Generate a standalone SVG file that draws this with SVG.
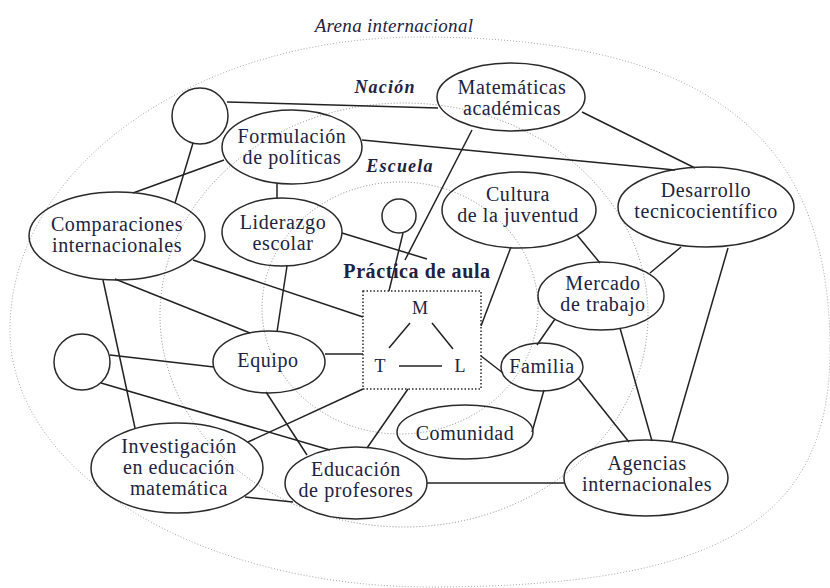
<svg xmlns="http://www.w3.org/2000/svg" width="830" height="588" viewBox="0 0 830 588" font-family="'Liberation Serif', 'Times New Roman', serif">
<style>
  .bg { fill: #ffffff; }
  .zone { fill: none; stroke: #8a8a8a; stroke-width: 1; stroke-dasharray: 1 2; }
  .zone-outer { fill: none; stroke: #a8a8a8; stroke-width: 1; stroke-dasharray: 1 2; }
  .node { fill: none; stroke: #2a2a2a; stroke-width: 1.5; }
  .box { fill: none; stroke: #2a2a2a; stroke-width: 1.5; stroke-dasharray: 1.5 2; }
  .edge { stroke: #222222; stroke-width: 1.5; fill: none; }
  text { font-family: 'Liberation Serif', 'Times New Roman', serif; }
  .lbl { font-size: 20px; letter-spacing: 0.6px; fill: #222240; text-anchor: middle; }
  .zlbl { font-style: italic; fill: #222240; text-anchor: middle; }
  .mtl { font-size: 18px; fill: #222240; text-anchor: middle; }
</style>
<rect class="bg" x="0" y="0" width="830" height="588"/>

<g id="zones">
  <path class="zone-outer" d="M 420 37 C 720 37 830 145 830 350 C 830 520 720 587 430 587 C 198 587 10 472 10 330 C 10 168 194 37 420 37 Z"/>
  <ellipse class="zone" cx="404" cy="315" rx="244" ry="212"/>
  <ellipse class="zone" cx="400" cy="308" rx="138" ry="126"/>
  <text class="zlbl" x="394" y="32" font-size="19" letter-spacing="0.3">Arena internacional</text>
  <text class="zlbl" x="385" y="93" font-size="18" font-weight="bold" letter-spacing="1.2">Nación</text>
  <text class="zlbl" x="400" y="172" font-size="18" font-weight="bold" letter-spacing="1.2">Escuela</text>
</g>

<g id="connectors">
  <line class="edge" x1="227" y1="102" x2="438" y2="108"/>
  <line class="edge" x1="193" y1="143" x2="175" y2="203"/>
  <line class="edge" x1="224" y1="160" x2="133" y2="193"/>
  <line class="edge" x1="362" y1="140" x2="675" y2="170"/>
  <line class="edge" x1="277" y1="183" x2="277" y2="198"/>
  <line class="edge" x1="472" y1="130" x2="405" y2="260"/>
  <line class="edge" x1="582" y1="112" x2="695" y2="168"/>
  <line class="edge" x1="342" y1="233" x2="427" y2="259"/>
  <line class="edge" x1="403" y1="233" x2="389" y2="291"/>
  <line class="edge" x1="193" y1="260" x2="363" y2="317"/>
  <line class="edge" x1="115" y1="279" x2="250" y2="333"/>
  <line class="edge" x1="103" y1="280" x2="135" y2="428"/>
  <line class="edge" x1="287" y1="266" x2="277" y2="332"/>
  <line class="edge" x1="110" y1="355" x2="214" y2="367"/>
  <line class="edge" x1="101" y1="383" x2="330" y2="450"/>
  <line class="edge" x1="325" y1="354" x2="363" y2="354"/>
  <line class="edge" x1="363" y1="389" x2="248" y2="442"/>
  <line class="edge" x1="266" y1="392" x2="307" y2="455"/>
  <line class="edge" x1="408" y1="389" x2="367" y2="448"/>
  <line class="edge" x1="245" y1="497" x2="293" y2="502"/>
  <line class="edge" x1="427" y1="483" x2="565" y2="483"/>
  <line class="edge" x1="511" y1="247" x2="481" y2="326"/>
  <line class="edge" x1="577" y1="235" x2="600" y2="263"/>
  <line class="edge" x1="681" y1="247" x2="650" y2="273"/>
  <line class="edge" x1="728" y1="248" x2="672" y2="441"/>
  <line class="edge" x1="555" y1="319" x2="537" y2="345"/>
  <line class="edge" x1="620" y1="328" x2="652" y2="441"/>
  <line class="edge" x1="481" y1="356" x2="503" y2="373"/>
  <line class="edge" x1="578" y1="378" x2="629" y2="442"/>
  <line class="edge" x1="544" y1="390" x2="532" y2="432"/>
</g>

<g id="circle-tl"><circle class="node" cx="200" cy="116" r="28"/></g>
<g id="circle-l"><circle class="node" cx="82" cy="362" r="28"/></g>
<g id="circle-c"><circle class="node" cx="399" cy="216" r="17"/></g>

<g id="matematicas">
  <ellipse class="node" cx="511" cy="97" rx="74" ry="34"/>
  <text class="lbl" x="512" y="94">Matemáticas</text>
  <text class="lbl" x="512" y="115">académicas</text>
</g>
<g id="formulacion">
  <ellipse class="node" cx="292" cy="147" rx="70" ry="37"/>
  <text class="lbl" x="292" y="143">Formulación</text>
  <text class="lbl" x="292" y="164">de políticas</text>
</g>
<g id="comparaciones">
  <ellipse class="node" cx="117" cy="236" rx="88" ry="44"/>
  <text class="lbl" x="117" y="231">Comparaciones</text>
  <text class="lbl" x="117" y="252">internacionales</text>
</g>
<g id="liderazgo">
  <ellipse class="node" cx="282" cy="232" rx="60" ry="34"/>
  <text class="lbl" x="283" y="229">Liderazgo</text>
  <text class="lbl" x="283" y="250">escolar</text>
</g>
<g id="cultura">
  <ellipse class="node" cx="519" cy="210" rx="77" ry="38"/>
  <text class="lbl" x="518" y="201">Cultura</text>
  <text class="lbl" x="518" y="222">de la juventud</text>
</g>
<g id="desarrollo">
  <ellipse class="node" cx="706" cy="207" rx="88" ry="40"/>
  <text class="lbl" x="706" y="197">Desarrollo</text>
  <text class="lbl" x="706" y="218">tecnicocientífico</text>
</g>
<g id="mercado">
  <ellipse class="node" cx="601" cy="296" rx="63" ry="34"/>
  <text class="lbl" x="603" y="290">Mercado</text>
  <text class="lbl" x="603" y="311">de trabajo</text>
</g>
<g id="practica">
  <text class="lbl" x="417" y="278" font-weight="bold" font-size="20" letter-spacing="0.8">Práctica de aula</text>
  <rect class="box" x="363" y="291" width="118" height="98"/>
  <text class="mtl" x="420" y="314">M</text>
  <text class="mtl" x="380" y="372">T</text>
  <text class="mtl" x="460" y="372">L</text>
  <line class="edge" x1="410" y1="323" x2="389" y2="348"/>
  <line class="edge" x1="432" y1="323" x2="453" y2="349"/>
  <line class="edge" x1="399" y1="366" x2="442" y2="366"/>
</g>
<g id="equipo">
  <ellipse class="node" cx="269" cy="362" rx="56" ry="31"/>
  <text class="lbl" x="268" y="367">Equipo</text>
</g>
<g id="familia">
  <ellipse class="node" cx="542" cy="367" rx="41" ry="24"/>
  <text class="lbl" x="542" y="373">Familia</text>
</g>
<g id="comunidad">
  <ellipse class="node" cx="465" cy="432" rx="68" ry="27"/>
  <text class="lbl" x="465" y="440">Comunidad</text>
</g>
<g id="investigacion">
  <ellipse class="node" cx="177" cy="468" rx="86" ry="45"/>
  <text class="lbl" x="179" y="453">Investigación</text>
  <text class="lbl" x="179" y="474">en educación</text>
  <text class="lbl" x="179" y="495">matemática</text>
</g>
<g id="educacion">
  <ellipse class="node" cx="356" cy="483" rx="71" ry="36"/>
  <text class="lbl" x="356" y="476">Educación</text>
  <text class="lbl" x="356" y="497">de profesores</text>
</g>
<g id="agencias">
  <ellipse class="node" cx="646" cy="478" rx="82" ry="38"/>
  <text class="lbl" x="647" y="470">Agencias</text>
  <text class="lbl" x="647" y="491">internacionales</text>
</g>
</svg>
